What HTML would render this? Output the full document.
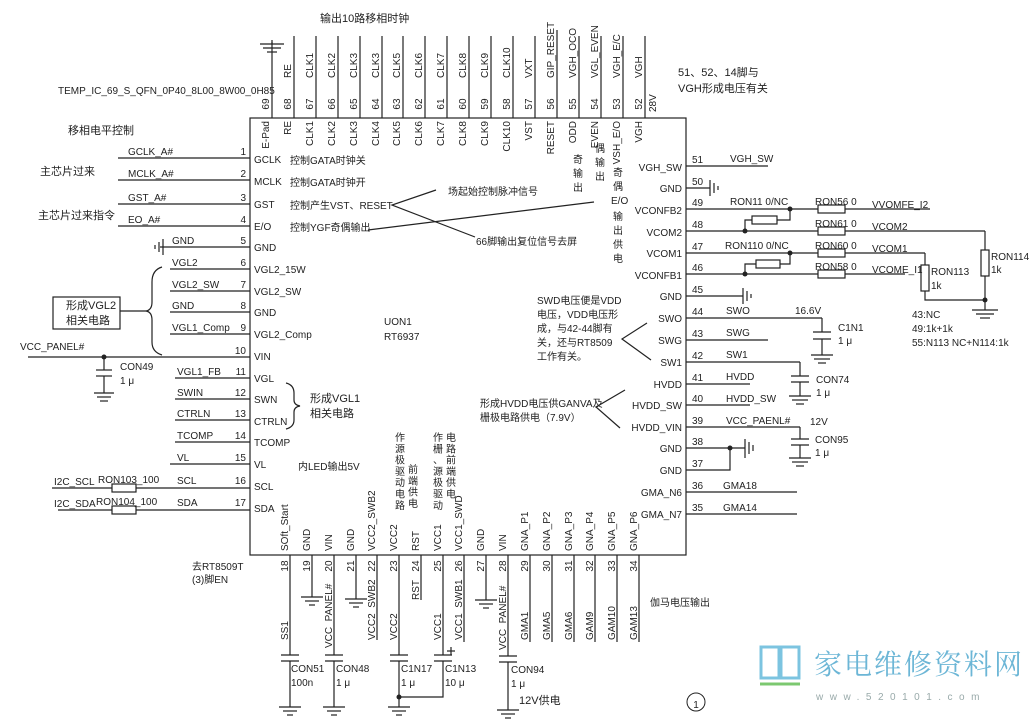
<!DOCTYPE html>
<html><head><meta charset="utf-8"><style>
html,body{margin:0;padding:0;background:#fff;}
svg{display:block}
text{font-family:"Liberation Sans Narrow","Liberation Sans","Noto Sans CJK SC",sans-serif;font-size:10px;fill:#222}
.c{font-family:"Liberation Sans","Noto Sans CJK SC",sans-serif;font-size:11px}
line,path,polyline,rect{stroke:#222;stroke-width:1.2;fill:none}
.f{fill:#222}
</style></head><body>
<svg width="1035" height="724" viewBox="0 0 1035 724" xmlns="http://www.w3.org/2000/svg">
<!-- IC box -->
<rect x="250" y="118" width="436" height="437"/>
<text x="320" y="22" class="c">输出10路移相时钟</text>
<text x="58" y="94" font-size="10">TEMP_IC_69_S_QFN_0P40_8L00_8W00_0H85</text>
<text x="68" y="134" class="c">移相电平控制</text>
<text x="40" y="175" class="c">主芯片过来</text>
<text x="38" y="219" class="c">主芯片过来指令</text>
<text x="678" y="76" class="c">51、52、14脚与</text>
<text x="678" y="92" class="c">VGH形成电压有关</text>
<text transform="translate(656,112) rotate(-90)" font-size="9">28V</text>
<!-- top pins -->
<g>
<line x1="272" y1="42" x2="272" y2="118"/><line x1="260" y1="44" x2="284" y2="44"/><line x1="263" y1="48" x2="281" y2="48"/><line x1="267" y1="52" x2="277" y2="52"/><line x1="272" y1="40" x2="272" y2="44"/>
<line x1="294" y1="36" x2="294" y2="118"/><line x1="316" y1="36" x2="316" y2="118"/><line x1="338" y1="36" x2="338" y2="118"/><line x1="360" y1="36" x2="360" y2="118"/><line x1="382" y1="36" x2="382" y2="118"/><line x1="403" y1="36" x2="403" y2="118"/><line x1="425" y1="36" x2="425" y2="118"/><line x1="447" y1="36" x2="447" y2="118"/><line x1="469" y1="36" x2="469" y2="118"/><line x1="491" y1="36" x2="491" y2="118"/><line x1="513" y1="36" x2="513" y2="118"/><line x1="535" y1="36" x2="535" y2="118"/><line x1="557" y1="30" x2="557" y2="118"/><line x1="579" y1="36" x2="579" y2="118"/><line x1="601" y1="36" x2="601" y2="118"/><line x1="623" y1="36" x2="623" y2="118"/><line x1="645" y1="36" x2="645" y2="118"/>
</g>
<g text-anchor="middle">
<text transform="translate(269,104) rotate(-90)">69</text><text transform="translate(291,104) rotate(-90)">68</text><text transform="translate(313,104) rotate(-90)">67</text><text transform="translate(335,104) rotate(-90)">66</text><text transform="translate(357,104) rotate(-90)">65</text><text transform="translate(379,104) rotate(-90)">64</text><text transform="translate(400,104) rotate(-90)">63</text><text transform="translate(422,104) rotate(-90)">62</text><text transform="translate(444,104) rotate(-90)">61</text><text transform="translate(466,104) rotate(-90)">60</text><text transform="translate(488,104) rotate(-90)">59</text><text transform="translate(510,104) rotate(-90)">58</text><text transform="translate(532,104) rotate(-90)">57</text><text transform="translate(554,104) rotate(-90)">56</text><text transform="translate(576,104) rotate(-90)">55</text><text transform="translate(598,104) rotate(-90)">54</text><text transform="translate(620,104) rotate(-90)">53</text><text transform="translate(642,104) rotate(-90)">52</text>
</g>
<g text-anchor="start">
<text transform="translate(291,78) rotate(-90)">RE</text><text transform="translate(313,78) rotate(-90)">CLK1</text><text transform="translate(335,78) rotate(-90)">CLK2</text><text transform="translate(357,78) rotate(-90)">CLK3</text><text transform="translate(379,78) rotate(-90)">CLK3</text><text transform="translate(400,78) rotate(-90)">CLK5</text><text transform="translate(422,78) rotate(-90)">CLK6</text><text transform="translate(444,78) rotate(-90)">CLK7</text><text transform="translate(466,78) rotate(-90)">CLK8</text><text transform="translate(488,78) rotate(-90)">CLK9</text><text transform="translate(510,78) rotate(-90)">CLK10</text><text transform="translate(532,78) rotate(-90)">VXT</text><text transform="translate(554,78) rotate(-90)">GIP_RESET</text><text transform="translate(576,78) rotate(-90)">VGH_OCO</text><text transform="translate(598,78) rotate(-90)">VGL_EVEN</text><text transform="translate(620,78) rotate(-90)">VGH_E/C</text><text transform="translate(642,78) rotate(-90)">VGH</text>
</g>
<g text-anchor="end">
<text transform="translate(269,121) rotate(-90)">E-Pad</text><text transform="translate(291,121) rotate(-90)">RE</text><text transform="translate(313,121) rotate(-90)">CLK1</text><text transform="translate(335,121) rotate(-90)">CLK2</text><text transform="translate(357,121) rotate(-90)">CLK3</text><text transform="translate(379,121) rotate(-90)">CLK4</text><text transform="translate(400,121) rotate(-90)">CLK5</text><text transform="translate(422,121) rotate(-90)">CLK6</text><text transform="translate(444,121) rotate(-90)">CLK7</text><text transform="translate(466,121) rotate(-90)">CLK8</text><text transform="translate(488,121) rotate(-90)">CLK9</text><text transform="translate(510,121) rotate(-90)">CLK10</text><text transform="translate(532,121) rotate(-90)">VST</text><text transform="translate(554,121) rotate(-90)">RESET</text><text transform="translate(576,121) rotate(-90)">ODD</text><text transform="translate(598,121) rotate(-90)">EVEN</text><text transform="translate(620,121) rotate(-90)">VSH_E/O</text><text transform="translate(642,121) rotate(-90)">VGH</text>
</g>
<!-- vertical Chinese -->
<g class="c" font-size="11">
<text x="573" y="163">奇</text><text x="573" y="177">输</text><text x="573" y="191">出</text>
<text x="595" y="152">偶</text><text x="595" y="166">输</text><text x="595" y="180">出</text>
<text x="613" y="176">奇</text><text x="613" y="190">偶</text>
<text x="611" y="204" font-size="10">E/O</text>
<text x="613" y="220">输</text><text x="613" y="234">出</text><text x="613" y="248">供</text><text x="613" y="262">电</text>
</g>
<!-- left pins -->
<g>
<line x1="118" y1="158" x2="250" y2="158"/><line x1="118" y1="180" x2="250" y2="180"/><line x1="118" y1="204" x2="250" y2="204"/><line x1="118" y1="226" x2="250" y2="226"/><line x1="160" y1="247" x2="250" y2="247"/>
<line x1="163" y1="239" x2="163" y2="255"/><line x1="159" y1="242" x2="159" y2="252"/><line x1="155" y1="245" x2="155" y2="249"/>
<line x1="170" y1="269" x2="250" y2="269"/><line x1="170" y1="291" x2="250" y2="291"/><line x1="170" y1="312" x2="250" y2="312"/><line x1="170" y1="334" x2="250" y2="334"/><line x1="28" y1="357" x2="250" y2="357"/>
<line x1="175" y1="378" x2="250" y2="378"/><line x1="175" y1="399" x2="250" y2="399"/><line x1="175" y1="420" x2="250" y2="420"/><line x1="175" y1="442" x2="250" y2="442"/><line x1="170" y1="464" x2="250" y2="464"/>
<line x1="52" y1="488" x2="112" y2="488"/><line x1="136" y1="488" x2="250" y2="488"/><rect x="112" y="484" width="24" height="8"/>
<line x1="58" y1="510" x2="112" y2="510"/><line x1="136" y1="510" x2="250" y2="510"/><rect x="112" y="506" width="24" height="8"/>
</g>
<g text-anchor="end">
<text x="246" y="155">1</text><text x="246" y="177">2</text><text x="246" y="201">3</text><text x="246" y="223">4</text><text x="246" y="244">5</text><text x="246" y="266">6</text><text x="246" y="288">7</text><text x="246" y="309">8</text><text x="246" y="331">9</text><text x="246" y="354">10</text><text x="246" y="375">11</text><text x="246" y="396">12</text><text x="246" y="417">13</text><text x="246" y="439">14</text><text x="246" y="461">15</text><text x="246" y="484">16</text><text x="246" y="506">17</text>
</g>
<g>
<text x="254" y="163">GCLK</text><text x="254" y="185">MCLK</text><text x="254" y="208">GST</text><text x="254" y="230">E/O</text><text x="254" y="251">GND</text><text x="254" y="273">VGL2_15W</text><text x="254" y="295">VGL2_SW</text><text x="254" y="316">GND</text><text x="254" y="338">VGL2_Comp</text><text x="254" y="360">VIN</text><text x="254" y="382">VGL</text><text x="254" y="403">SWN</text><text x="254" y="425">CTRLN</text><text x="254" y="446">TCOMP</text><text x="254" y="468">VL</text><text x="254" y="490">SCL</text><text x="254" y="512">SDA</text>
<text x="128" y="155">GCLK_A#</text><text x="128" y="177">MCLK_A#</text><text x="128" y="201">GST_A#</text><text x="128" y="223">EO_A#</text><text x="172" y="244">GND</text>
<text x="172" y="266">VGL2</text><text x="172" y="288">VGL2_SW</text><text x="172" y="309">GND</text><text x="172" y="331">VGL1_Comp</text>
<text x="20" y="350">VCC_PANEL#</text>
<text x="177" y="375">VGL1_FB</text><text x="177" y="396">SWIN</text><text x="177" y="417">CTRLN</text><text x="177" y="439">TCOMP</text><text x="177" y="461">VL</text><text x="177" y="484">SCL</text><text x="177" y="506">SDA</text>
<text x="54" y="485">I2C_SCL</text><text x="98" y="483">RON103_100</text>
<text x="54" y="507">I2C_SDA</text><text x="96" y="505">RON104_100</text>
<text x="120" y="370">CON49</text><text x="120" y="384">1 μ</text>
<text x="192" y="570">去RT8509T</text><text x="192" y="583">(3)脚EN</text>
</g>
<!-- CON49 -->
<circle cx="104" cy="357" r="2.5" class="f"/>
<line x1="104" y1="357" x2="104" y2="370"/><line x1="96" y1="370" x2="112" y2="370"/><line x1="96" y1="376" x2="112" y2="376"/><line x1="104" y1="376" x2="104" y2="393"/>
<line x1="94" y1="393" x2="114" y2="393"/><line x1="97" y1="397" x2="111" y2="397"/><line x1="100" y1="401" x2="108" y2="401"/>
<!-- VGL2 box & brace -->
<rect x="53" y="297" width="67" height="32"/>
<text x="66" y="309" class="c">形成VGL2</text><text x="66" y="324" class="c">相关电路</text>
<line x1="120" y1="311" x2="146" y2="311"/>
<path d="M162 267 Q152 270 152 282 L152 302 Q152 310 146 311 Q152 312 152 320 L152 342 Q152 352 162 355"/>
<path d="M286 383 Q294 385 294 393 L294 400 Q294 405 300 406 Q294 407 294 412 L294 420 Q294 427 286 429"/>
<text x="310" y="402" class="c">形成VGL1</text><text x="310" y="417" class="c">相关电路</text>
<!-- internal notes -->
<g class="c">
<text x="290" y="164">控制GATA时钟关</text><text x="290" y="186">控制GATA时钟开</text>
<text x="290" y="209">控制产生VST、RESET</text><text x="290" y="231">控制YGF奇偶输出</text>
<text x="448" y="195">场起始控制脉冲信号</text><text x="476" y="245">66脚输出复位信号去屏</text>
<text x="298" y="470">内LED输出5V</text>
</g>
<polyline points="436,190 392,205 475,237"/>
<line x1="368" y1="230" x2="594" y2="202"/>
<text x="384" y="325">UON1</text><text x="384" y="340">RT6937</text>
<!-- right pins -->
<g>
<line x1="686" y1="166" x2="768" y2="166"/>
<line x1="686" y1="188" x2="710" y2="188"/><line x1="710" y1="180" x2="710" y2="196"/><line x1="714" y1="183" x2="714" y2="193"/><line x1="718" y1="186" x2="718" y2="190"/>
<line x1="686" y1="209" x2="818" y2="209"/><line x1="845" y1="209" x2="930" y2="209"/><rect x="818" y="205" width="27" height="8"/>
<line x1="686" y1="231" x2="818" y2="231"/><line x1="845" y1="231" x2="985" y2="231"/><rect x="818" y="227" width="27" height="8"/>
<line x1="686" y1="253" x2="818" y2="253"/><line x1="845" y1="253" x2="925" y2="253"/><rect x="818" y="249" width="27" height="8"/>
<line x1="686" y1="274" x2="818" y2="274"/><line x1="845" y1="274" x2="905" y2="274"/><rect x="818" y="270" width="27" height="8"/>
<circle cx="790" cy="209" r="2.5" class="f"/><circle cx="745" cy="231" r="2.5" class="f"/>
<polyline points="790,209 790,220 777,220"/><rect x="752" y="216" width="25" height="8"/><polyline points="752,220 745,220 745,231"/>
<circle cx="790" cy="253" r="2.5" class="f"/><circle cx="745" cy="274" r="2.5" class="f"/>
<polyline points="790,253 790,264 780,264"/><rect x="756" y="260" width="24" height="8"/><polyline points="756,264 745,264 745,274"/>
<polyline points="985,231 985,250"/><rect x="981" y="250" width="8" height="26"/><polyline points="985,276 985,300"/>
<polyline points="925,253 925,265"/><rect x="921" y="265" width="8" height="26"/><polyline points="925,291 925,300 985,300"/>
<circle cx="985" cy="300" r="2.5" class="f"/><line x1="985" y1="300" x2="985" y2="310"/>
<line x1="972" y1="310" x2="998" y2="310"/><line x1="976" y1="314" x2="994" y2="314"/><line x1="980" y1="318" x2="990" y2="318"/>
<line x1="686" y1="296" x2="743" y2="296"/><line x1="743" y1="288" x2="743" y2="304"/><line x1="747" y1="291" x2="747" y2="301"/><line x1="751" y1="294" x2="751" y2="298"/>
<line x1="686" y1="318" x2="822" y2="318"/><line x1="822" y1="318" x2="822" y2="332"/><line x1="813" y1="332" x2="831" y2="332"/><line x1="813" y1="339" x2="831" y2="339"/><line x1="822" y1="339" x2="822" y2="355"/>
<line x1="811" y1="355" x2="833" y2="355"/><line x1="814" y1="359" x2="830" y2="359"/><line x1="818" y1="363" x2="826" y2="363"/>
<line x1="686" y1="340" x2="768" y2="340"/>
<line x1="686" y1="362" x2="800" y2="362"/><line x1="800" y1="362" x2="800" y2="376"/><line x1="791" y1="376" x2="809" y2="376"/><line x1="791" y1="382" x2="809" y2="382"/><line x1="800" y1="382" x2="800" y2="396"/>
<line x1="789" y1="396" x2="811" y2="396"/><line x1="792" y1="400" x2="808" y2="400"/><line x1="796" y1="404" x2="804" y2="404"/>
<line x1="686" y1="384" x2="750" y2="384"/><line x1="686" y1="405" x2="750" y2="405"/>
<line x1="686" y1="427" x2="800" y2="427"/><line x1="800" y1="427" x2="800" y2="439"/><line x1="791" y1="439" x2="809" y2="439"/><line x1="791" y1="445" x2="809" y2="445"/><line x1="800" y1="445" x2="800" y2="458"/>
<line x1="789" y1="458" x2="811" y2="458"/><line x1="792" y1="462" x2="808" y2="462"/><line x1="796" y1="466" x2="804" y2="466"/>
<line x1="686" y1="448" x2="745" y2="448"/><circle cx="730" cy="448" r="2.5" class="f"/><polyline points="686,470 730,470 730,448"/>
<line x1="745" y1="439" x2="745" y2="458"/><line x1="749" y1="442" x2="749" y2="454"/><line x1="753" y1="445" x2="753" y2="451"/>
<line x1="686" y1="492" x2="797" y2="492"/><line x1="686" y1="514" x2="797" y2="514"/>
</g>
<g>
<text x="692" y="163">51</text><text x="692" y="185">50</text><text x="692" y="206">49</text><text x="692" y="228">48</text><text x="692" y="250">47</text><text x="692" y="271">46</text><text x="692" y="293">45</text><text x="692" y="315">44</text><text x="692" y="337">43</text><text x="692" y="359">42</text><text x="692" y="381">41</text><text x="692" y="402">40</text><text x="692" y="424">39</text><text x="692" y="445">38</text><text x="692" y="467">37</text><text x="692" y="489">36</text><text x="692" y="511">35</text>
</g>
<g text-anchor="end">
<text x="682" y="171">VGH_SW</text><text x="682" y="192">GND</text><text x="682" y="214">VCONFB2</text><text x="682" y="236">VCOM2</text><text x="682" y="257">VCOM1</text><text x="682" y="279">VCONFB1</text><text x="682" y="300">GND</text><text x="682" y="322">SWO</text><text x="682" y="344">SWG</text><text x="682" y="366">SW1</text><text x="682" y="388">HVDD</text><text x="682" y="409">HVDD_SW</text><text x="682" y="431">HVDD_VIN</text><text x="682" y="452">GND</text><text x="682" y="474">GND</text><text x="682" y="496">GMA_N6</text><text x="682" y="518">GMA_N7</text>
</g>
<g>
<text x="730" y="162">VGH_SW</text>
<text x="730" y="205">RON11 0/NC</text><text x="815" y="205">RON56 0</text><text x="872" y="208">VVOMFE_I2</text>
<text x="815" y="227">RON61 0</text><text x="872" y="230">VCOM2</text>
<text x="725" y="249">RON110 0/NC</text><text x="815" y="249">RON60 0</text><text x="872" y="252">VCOM1</text>
<text x="815" y="270">RON58 0</text><text x="872" y="273">VCOME_I1</text>
<text x="991" y="260">RON114</text><text x="991" y="273">1k</text>
<text x="931" y="275">RON113</text><text x="931" y="289">1k</text>
<text x="912" y="318">43:NC</text><text x="912" y="332">49:1k+1k</text><text x="912" y="346">55:N113 NC+N114:1k</text>
<text x="726" y="314">SWO</text><text x="795" y="314">16.6V</text><text x="838" y="331">C1N1</text><text x="838" y="344">1 μ</text>
<text x="726" y="336">SWG</text><text x="726" y="358">SW1</text>
<text x="726" y="380">HVDD</text><text x="816" y="383">CON74</text><text x="816" y="396">1 μ</text>
<text x="726" y="402">HVDD_SW</text><text x="726" y="424">VCC_PAENL#</text><text x="810" y="425">12V</text>
<text x="815" y="443">CON95</text><text x="815" y="456">1 μ</text>
<text x="723" y="489">GMA18</text><text x="723" y="511">GMA14</text>
</g>
<g class="c" font-size="10">
<text x="537" y="304">SWD电压便是VDD</text><text x="537" y="318">电压，VDD电压形</text><text x="537" y="332">成，与42-44脚有</text><text x="537" y="346">关，还与RT8509</text><text x="537" y="360">工作有关。</text>
<text x="480" y="407">形成HVDD电压供GANVA及</text><text x="480" y="421">栅极电路供电（7.9V）</text>
<text x="650" y="606">伽马电压输出</text>
</g>
<polyline points="647,323 622,339 651,360"/>
<polyline points="625,390 596,407 620,428"/>
<!-- bottom pins -->
<g>
<line x1="290" y1="555" x2="290" y2="655"/><line x1="281" y1="655" x2="299" y2="655"/><line x1="281" y1="661" x2="299" y2="661"/><line x1="290" y1="661" x2="290" y2="707"/>
<line x1="279" y1="707" x2="301" y2="707"/><line x1="283" y1="711" x2="297" y2="711"/><line x1="287" y1="715" x2="293" y2="715"/>
<line x1="312" y1="555" x2="312" y2="597"/><line x1="301" y1="597" x2="323" y2="597"/><line x1="305" y1="601" x2="319" y2="601"/><line x1="309" y1="605" x2="315" y2="605"/>
<line x1="334" y1="555" x2="334" y2="655"/><line x1="325" y1="655" x2="343" y2="655"/><line x1="325" y1="661" x2="343" y2="661"/><line x1="334" y1="661" x2="334" y2="707"/>
<line x1="323" y1="707" x2="345" y2="707"/><line x1="327" y1="711" x2="341" y2="711"/><line x1="331" y1="715" x2="337" y2="715"/>
<line x1="356" y1="555" x2="356" y2="599"/><line x1="345" y1="599" x2="367" y2="599"/><line x1="349" y1="603" x2="363" y2="603"/><line x1="353" y1="607" x2="359" y2="607"/>
<line x1="377" y1="555" x2="377" y2="640"/>
<line x1="399" y1="555" x2="399" y2="655"/><line x1="390" y1="655" x2="408" y2="655"/><line x1="390" y1="661" x2="408" y2="661"/><line x1="399" y1="661" x2="399" y2="707"/>
<circle cx="399" cy="697" r="2.5" class="f"/><polyline points="399,697 443,697 443,661"/>
<line x1="388" y1="707" x2="410" y2="707"/><line x1="392" y1="711" x2="406" y2="711"/><line x1="396" y1="715" x2="402" y2="715"/>
<line x1="421" y1="555" x2="421" y2="600"/>
<line x1="443" y1="555" x2="443" y2="655"/><line x1="434" y1="655" x2="452" y2="655"/><line x1="434" y1="661" x2="452" y2="661"/>
<line x1="451" y1="647" x2="451" y2="655"/><line x1="447" y1="651" x2="455" y2="651"/>
<line x1="464" y1="555" x2="464" y2="642"/>
<line x1="486" y1="555" x2="486" y2="600"/><line x1="475" y1="600" x2="497" y2="600"/><line x1="479" y1="604" x2="493" y2="604"/><line x1="483" y1="608" x2="489" y2="608"/>
<line x1="508" y1="555" x2="508" y2="656"/><line x1="499" y1="656" x2="517" y2="656"/><line x1="499" y1="662" x2="517" y2="662"/><line x1="508" y1="662" x2="508" y2="710"/>
<line x1="497" y1="710" x2="519" y2="710"/><line x1="501" y1="714" x2="515" y2="714"/><line x1="505" y1="718" x2="511" y2="718"/>
<line x1="530" y1="555" x2="530" y2="642"/><line x1="552" y1="555" x2="552" y2="642"/><line x1="574" y1="555" x2="574" y2="642"/><line x1="595" y1="555" x2="595" y2="642"/><line x1="617" y1="555" x2="617" y2="642"/><line x1="639" y1="555" x2="639" y2="642"/>
</g>
<g text-anchor="middle">
<text transform="translate(288,566) rotate(-90)">18</text><text transform="translate(310,566) rotate(-90)">19</text><text transform="translate(332,566) rotate(-90)">20</text><text transform="translate(354,566) rotate(-90)">21</text><text transform="translate(375,566) rotate(-90)">22</text><text transform="translate(397,566) rotate(-90)">23</text><text transform="translate(419,566) rotate(-90)">24</text><text transform="translate(441,566) rotate(-90)">25</text><text transform="translate(462,566) rotate(-90)">26</text><text transform="translate(484,566) rotate(-90)">27</text><text transform="translate(506,566) rotate(-90)">28</text><text transform="translate(528,566) rotate(-90)">29</text><text transform="translate(550,566) rotate(-90)">30</text><text transform="translate(572,566) rotate(-90)">31</text><text transform="translate(593,566) rotate(-90)">32</text><text transform="translate(615,566) rotate(-90)">33</text><text transform="translate(637,566) rotate(-90)">34</text>
</g>
<g text-anchor="start">
<text transform="translate(288,551) rotate(-90)">SOft_Start</text><text transform="translate(310,551) rotate(-90)">GND</text><text transform="translate(332,551) rotate(-90)">VIN</text><text transform="translate(354,551) rotate(-90)">GND</text><text transform="translate(375,551) rotate(-90)">VCC2_SWB2</text><text transform="translate(397,551) rotate(-90)">VCC2</text><text transform="translate(419,551) rotate(-90)">RST</text><text transform="translate(441,551) rotate(-90)">VCC1</text><text transform="translate(462,551) rotate(-90)">VCC1_SWD</text><text transform="translate(484,551) rotate(-90)">GND</text><text transform="translate(506,551) rotate(-90)">VIN</text><text transform="translate(528,551) rotate(-90)">GNA_P1</text><text transform="translate(550,551) rotate(-90)">GNA_P2</text><text transform="translate(572,551) rotate(-90)">GNA_P3</text><text transform="translate(593,551) rotate(-90)">GNA_P4</text><text transform="translate(615,551) rotate(-90)">GNA_P5</text><text transform="translate(637,551) rotate(-90)">GNA_P6</text>
<text transform="translate(288,640) rotate(-90)">SS1</text><text transform="translate(332,648) rotate(-90)">VCC_PANEL#</text><text transform="translate(375,640) rotate(-90)">VCC2_SWB2</text><text transform="translate(397,640) rotate(-90)">VCC2</text><text transform="translate(419,600) rotate(-90)">RST</text><text transform="translate(441,640) rotate(-90)">VCC1</text><text transform="translate(462,640) rotate(-90)">VCC1_SWB1</text><text transform="translate(506,650) rotate(-90)">VCC_PANEL#</text>
<text transform="translate(528,640) rotate(-90)">GMA1</text><text transform="translate(550,640) rotate(-90)">GMA5</text><text transform="translate(572,640) rotate(-90)">GMA6</text><text transform="translate(593,640) rotate(-90)">GAM9</text><text transform="translate(615,640) rotate(-90)">GAM10</text><text transform="translate(637,640) rotate(-90)">GAM13</text>
</g>
<g>
<text x="291" y="672">CON51</text><text x="291" y="686">100n</text>
<text x="336" y="672">CON48</text><text x="336" y="686">1 μ</text>
<text x="401" y="672">C1N17</text><text x="401" y="686">1 μ</text>
<text x="445" y="672">C1N13</text><text x="445" y="686">10 μ</text>
<text x="511" y="673">CON94</text><text x="511" y="687">1 μ</text>
<text x="519" y="704" class="c">12V供电</text>
</g>
<g class="c" font-size="10">
<text x="395" y="441"><tspan x="395" dy="0">作</tspan><tspan x="395" dy="11.3">源</tspan><tspan x="395" dy="11.3">极</tspan><tspan x="395" dy="11.3">驱</tspan><tspan x="395" dy="11.3">动</tspan><tspan x="395" dy="11.3">电</tspan><tspan x="395" dy="11.3">路</tspan></text>
<text x="408" y="473"><tspan x="408" dy="0">前</tspan><tspan x="408" dy="11.3">端</tspan><tspan x="408" dy="11.3">供</tspan><tspan x="408" dy="11.3">电</tspan></text>
<text x="433" y="441"><tspan x="433" dy="0">作</tspan><tspan x="433" dy="11.3">栅</tspan><tspan x="433" dy="11.3">、</tspan><tspan x="433" dy="11.3">源</tspan><tspan x="433" dy="11.3">极</tspan><tspan x="433" dy="11.3">驱</tspan><tspan x="433" dy="11.3">动</tspan></text>
<text x="446" y="441"><tspan x="446" dy="0">电</tspan><tspan x="446" dy="11.3">路</tspan><tspan x="446" dy="11.3">前</tspan><tspan x="446" dy="11.3">端</tspan><tspan x="446" dy="11.3">供</tspan><tspan x="446" dy="11.3">电</tspan></text>
</g>
<circle cx="696" cy="702" r="9" style="stroke:#222;stroke-width:1;fill:none"/>
<text x="696" y="708" text-anchor="middle" font-family="Liberation Serif" font-size="15">1</text>
<!-- logo -->
<g>
<rect x="761" y="647" width="18" height="31" style="stroke:#7cc4e0;stroke-width:3"/>
<rect x="781" y="647" width="18" height="31" style="stroke:#7cc4e0;stroke-width:3"/>
<line x1="760" y1="684" x2="800" y2="684" style="stroke:#7cc870;stroke-width:3"/>
<text x="814" y="674" style="font-family:'Noto Serif CJK SC',serif;font-size:28px;fill:#6cb6d6;letter-spacing:2px">家电维修资料网</text>
<text x="816" y="700" style="font-size:10px;fill:#9aa;letter-spacing:6.5px">www.520101.com</text>
</g>
</svg>
</body></html>
